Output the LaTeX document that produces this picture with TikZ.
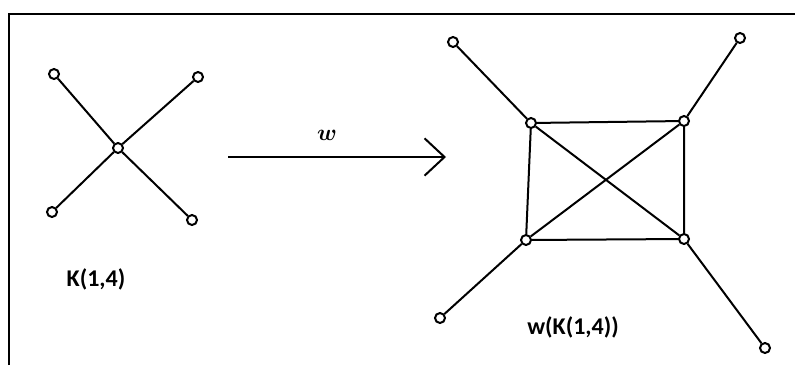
\documentclass[tikz,border=0pt]{standalone}
\usepackage{fontspec}
\setmainfont{Carlito}
\usepackage{tikz}
\usetikzlibrary{arrows.meta}

\begin{document}
\begin{tikzpicture}[
  x=0.75pt, y=-0.75pt,
  vertex/.style={draw, circle, line width=1.5pt, fill=white, inner sep=0pt, minimum size=7.5pt},
  edge/.style={line width=1.5pt},
  frameline/.style={line width=2pt},
  arrow/.style={-{Straight Barb[length=15pt, width=28pt, line width=1.5pt]}, line width=1.5pt},
  caption/.style={font=\fontsize{18}{20}\selectfont\bfseries}
]
\useasboundingbox (0,0) rectangle (795,365);

% ===== Frame =====
\draw[frameline] (9,365) -- (9,14) -- (795,14);

% ===== LEFT: K(1,4) =====
\node[vertex] at (118,148) (hub) {};
\node[vertex] at (54,74) (la) {};
\node[vertex] at (198,77) (lb) {};
\node[vertex] at (52,212) (lc) {};
\node[vertex] at (192,220) (ld) {};

\foreach \v in {la,lb,lc,ld}
  \draw[edge] (hub) -- (\v);

\node[caption] at (96,279) (klabel) {K(1,4)};

% ===== Arrow w =====
\coordinate (arrowstart) at (228,157);
\coordinate (arrowend) at (446,157);
\draw[arrow] (arrowstart) -- (arrowend);
\node[font=\fontsize{16}{18}\selectfont\boldmath] at (327,135) (wlabel) {$w$};

% ===== RIGHT: w(K(1,4)) =====
\node[vertex] at (531,123) (sa) {};
\node[vertex] at (684,121) (sb) {};
\node[vertex] at (526,240) (sc) {};
\node[vertex] at (684,239) (sd) {};
\node[vertex] at (453,42) (pa) {};
\node[vertex] at (740,38) (pb) {};
\node[vertex] at (440,318) (pc) {};
\node[vertex] at (765,348) (pd) {};

% square and diagonals
\draw[edge] (sa) -- (sb) -- (sd) -- (sc) -- (sa);
\draw[edge] (sa) -- (sd);
\draw[edge] (sb) -- (sc);

% pendant edges
\draw[edge] (sa) -- (pa);
\draw[edge] (sb) -- (pb);
\draw[edge] (sc) -- (pc);
\draw[edge] (sd) -- (pd);

\node[caption] at (573,327) (wklabel) {w(K(1,4))};

\end{tikzpicture}
\end{document}
